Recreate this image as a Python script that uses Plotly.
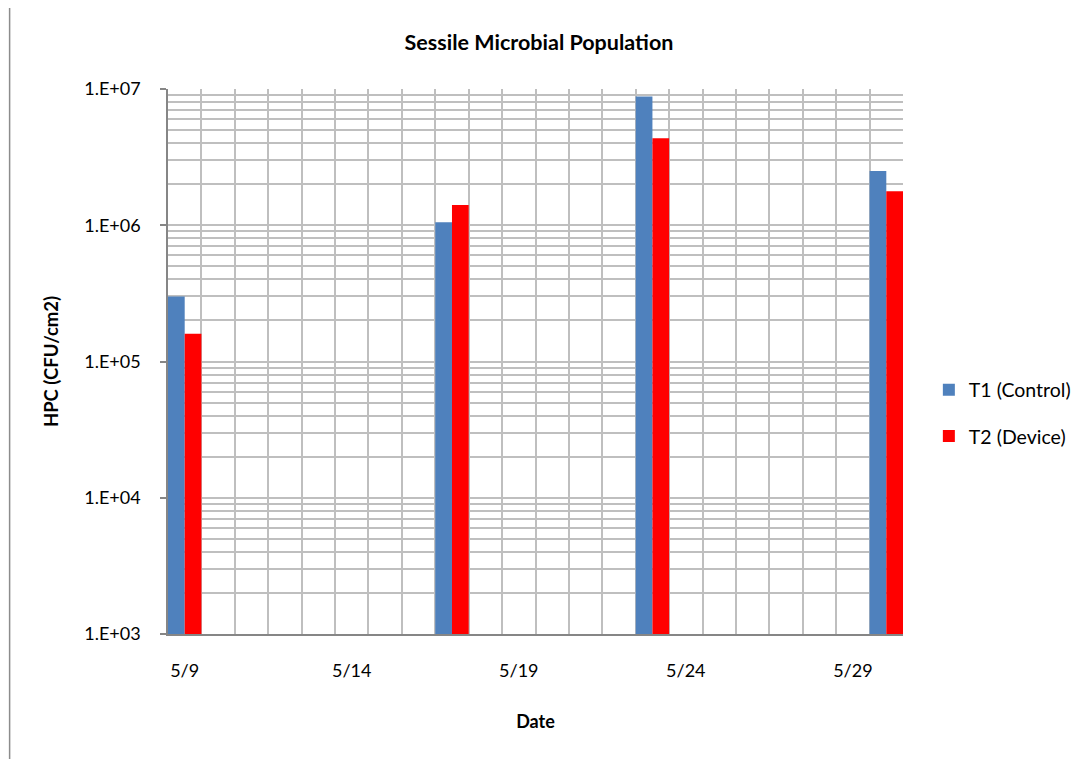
import plotly.graph_objects as go

# ---- data ----
dates = ["2012-05-09", "2012-05-17", "2012-05-23", "2012-05-30"]
t1_control = [3.0e5, 1.05e6, 8.8e6, 2.5e6]
t2_device = [1.6e5, 1.41e6, 4.35e6, 1.78e6]
series_names = ["T1 (Control)", "T2 (Device)"]
y_tick_vals = [1e3, 1e4, 1e5, 1e6, 1e7]
y_tick_text = ["1.E+03", "1.E+04", "1.E+05", "1.E+06", "1.E+07"]

# page has an 8px body margin; work in page coordinates and convert
OFF = 8
W, H = 1088 - OFF, 759 - OFF
L, R, T, B = 168 - OFF, 907 - OFF, 89 - OFF, 634 - OFF
DAY = 86400000
FONT = "Lato"

fig = go.Figure()
fig.add_trace(go.Bar(x=dates, y=t1_control, name=series_names[0],
                     marker=dict(color="#4F81BD", line=dict(width=0)),
                     width=DAY / 2, offset=-DAY / 2, legendgroup="a"))
fig.add_trace(go.Bar(x=dates, y=t2_device, name=series_names[1],
                     marker=dict(color="#FF0000", line=dict(width=0)),
                     width=DAY / 2, offset=0, legendgroup="b"))

minor_y = [m * 10 ** e for e in range(3, 7) for m in range(2, 10)]

# page px -> paper coords
px = lambda v: (v - OFF - L) / (R - L)
py = lambda v: (B - (v - OFF)) / (B - T)

# chart-area border on the left
fig.add_shape(type="line", xref="paper", yref="paper",
              x0=px(OFF + 0.75), x1=px(OFF + 0.75), y0=py(OFF), y1=py(759),
              line=dict(color="#8C8C8C", width=1.5))

fig.update_layout(
    width=W, height=H,
    margin=dict(l=L, r=W - R, t=T, b=H - B, pad=0),
    paper_bgcolor="white", plot_bgcolor="white",
    barmode="overlay",
    font=dict(family=FONT, size=18, color="#000000"),
    title=dict(text="<b>Sessile Microbial Population</b>", x=(539 - OFF) / W, xanchor="center",
               y=1 - (42 - OFF) / H, yanchor="middle", font=dict(size=21.5)),
    legend=dict(x=px(933), y=py(413), xanchor="left", yanchor="middle",
                tracegroupgap=18, font=dict(size=19.5), itemwidth=30),
    showlegend=True,
)

fig.update_xaxes(
    type="date",
    range=["2012-05-08 12:00", "2012-05-30 12:00"],
    tick0="2012-05-09", dtick=5 * DAY, tickformat="%-m/%-d",
    showgrid=False, ticks="", ticklabelstandoff=20,
    showline=True, linecolor="#868686", linewidth=1.5,
    minor=dict(tick0="2012-05-08 12:00", dtick=DAY, showgrid=True,
               gridcolor="#BFBFBF", gridwidth=1.5, ticks=""),
    title=dict(text="<b>Date</b>", standoff=35, font=dict(size=18)),
    zeroline=False,
)

fig.update_yaxes(
    type="log", range=[3, 7],
    tickvals=y_tick_vals, ticktext=y_tick_text,
    showgrid=True, gridcolor="#BFBFBF", gridwidth=1.5,
    ticks="outside", ticklen=6, tickcolor="#868686", tickwidth=1.5,
    ticklabelstandoff=16,
    showline=True, linecolor="#868686", linewidth=1.5,
    minor=dict(tickvals=minor_y, showgrid=True, gridcolor="#BFBFBF", gridwidth=1.5, ticks=""),
    title=dict(text="<b>HPC (CFU/cm2)</b>", standoff=21, font=dict(size=18.5)),
    zeroline=False,
)

fig.write_html("out.html")
